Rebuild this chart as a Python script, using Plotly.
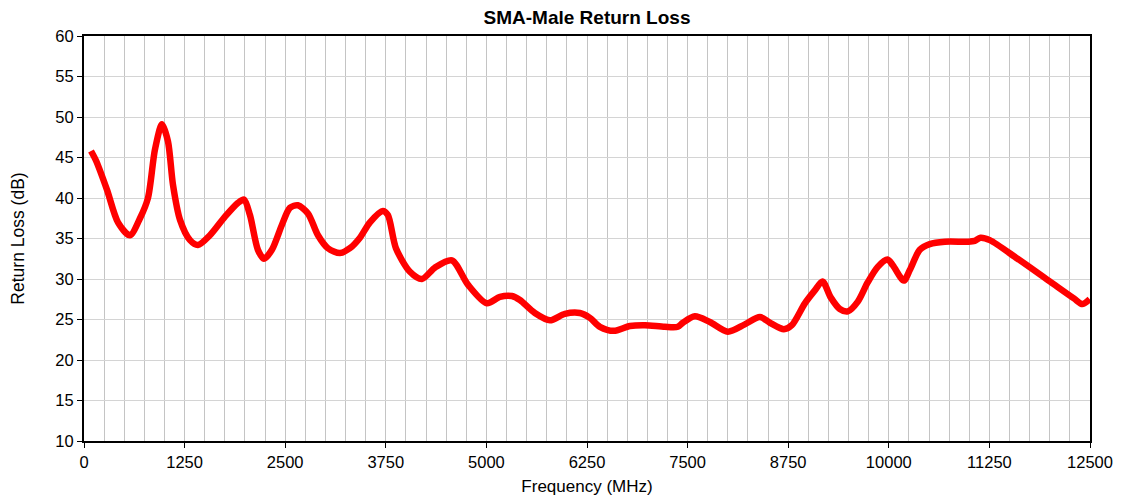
import plotly.graph_objects as go

# Measured return loss of the SMA-male connector
freq_mhz = [87, 150, 286, 422, 571, 696, 795, 882, 969, 1043, 1106, 1193, 1317, 1416,
            1565, 1752, 1913, 1988, 2062, 2161, 2236, 2335, 2460, 2559, 2658, 2783,
            2907, 3031, 3180, 3304, 3429, 3553, 3714, 3776, 3876, 4050, 4199, 4360,
            4571, 4770, 5006, 5168, 5317, 5416, 5602, 5789, 5975, 6161, 6286, 6410,
            6584, 6783, 6969, 7217, 7379, 7441, 7590, 7776, 8000, 8211, 8398, 8522,
            8696, 8795, 8957, 9081, 9176, 9280, 9391, 9491, 9615, 9739, 9863, 9984,
            10050, 10186, 10261, 10385, 10509, 10696, 10981, 11068, 11139, 11255,
            11600, 12000, 12300, 12406, 12497]
return_loss_db = [45.8, 44.6, 41.0, 37.0, 35.4, 37.5, 40.0, 46.0, 49.1, 47.0, 41.6, 37.3,
                  34.8, 34.2, 35.4, 37.7, 39.4, 39.8, 37.9, 33.6, 32.5, 33.6, 36.7, 38.8,
                  39.1, 38.1, 35.4, 33.8, 33.2, 33.8, 35.1, 37.0, 38.4, 37.9, 33.8, 30.9,
                  30.0, 31.4, 32.3, 29.3, 27.0, 27.8, 27.9, 27.4, 25.8, 24.9, 25.7, 25.8,
                  25.2, 24.1, 23.6, 24.2, 24.3, 24.1, 24.1, 24.6, 25.4, 24.7, 23.5, 24.4,
                  25.3, 24.6, 23.8, 24.3, 27.0, 28.6, 29.7, 27.7, 26.3, 26.0, 27.2, 29.6,
                  31.5, 32.4, 31.7, 29.8, 31.1, 33.6, 34.3, 34.6, 34.6, 34.7, 35.1, 34.8,
                  32.5, 29.7, 27.6, 26.9, 27.5]

x_ticks = [0, 1250, 2500, 3750, 5000, 6250, 7500, 8750, 10000, 11250, 12500]

font_family = "Liberation Sans, Arial, sans-serif"

fig = go.Figure(
    go.Scatter(
        x=freq_mhz,
        y=return_loss_db,
        mode="lines",
        line=dict(color="#ff0000", width=6.5, shape="spline", smoothing=0.8),
        hoverinfo="x+y",
    )
)

fig.update_layout(
    width=1123,
    height=499,
    margin=dict(l=84, r=33, t=36, b=58, autoexpand=False),
    paper_bgcolor="white",
    plot_bgcolor="white",
    showlegend=False,
    font=dict(family=font_family, size=17, color="black"),
    title=dict(
        text="<b>SMA-Male Return Loss</b>",
        x=0.5 * (84 + 1090) / 1123,
        xanchor="center",
        y=1 - 17 / 499,
        yanchor="middle",
        font=dict(family=font_family, size=19, color="black"),
    ),
)

fig.update_xaxes(
    range=[0, 12500],
    automargin=False,
    tickvals=x_ticks,
    ticktext=[str(v) for v in x_ticks],
    tickfont=dict(size=16.5),
    showgrid=True,
    gridcolor="#c4c4c4",
    gridwidth=1,
    minor=dict(dtick=250, tick0=0, showgrid=True, gridcolor="#c4c4c4", gridwidth=1, ticks=""),
    showline=True,
    linecolor="black",
    linewidth=2,
    mirror=True,
    ticks="outside",
    ticklen=5,
    tickwidth=1,
    tickcolor="black",
    zeroline=False,
    title=dict(text="Frequency (MHz)", standoff=10, font=dict(size=17)),
)

fig.update_yaxes(
    range=[10, 60],
    automargin=False,
    dtick=5,
    tick0=10,
    tickfont=dict(size=16.5),
    showgrid=True,
    gridcolor="#d4d4d4",
    gridwidth=1,
    showline=True,
    linecolor="black",
    linewidth=2,
    mirror=True,
    ticks="outside",
    ticklen=5,
    tickwidth=1,
    tickcolor="black",
    zeroline=False,
    title=dict(text="Return Loss (dB)", standoff=26, font=dict(size=17.5)),
)

fig.write_html("out.html")
